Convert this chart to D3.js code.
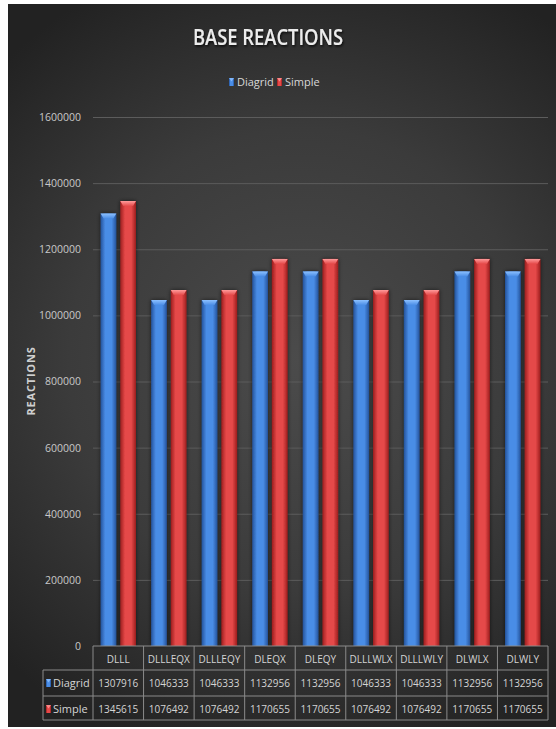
<!DOCTYPE html>
<html>
<head>
<meta charset="utf-8">
<script src="https://cdn.jsdelivr.net/npm/d3@7/dist/d3.min.js"></script>
<style>
  html, body { margin: 0; padding: 0; background: #ffffff; }
  svg { display: block; }
  text { font-family: "Open Sans", "Noto Sans", sans-serif; }
</style>
</head>
<body>
<svg id="chart" width="556" height="729"></svg>
<script>
// Load cases and base reaction totals for the two structural systems
const categories = ["DLLL", "DLLLEQX", "DLLLEQY", "DLEQX", "DLEQY", "DLLLWLX", "DLLLWLY", "DLWLX", "DLWLY"];
const seriesNames = ["Diagrid", "Simple"];
const diagrid = [1307916, 1046333, 1046333, 1132956, 1132956, 1046333, 1046333, 1132956, 1132956];
const simple  = [1345615, 1076492, 1076492, 1170655, 1170655, 1076492, 1076492, 1170655, 1170655];
const yTicks = [0, 200000, 400000, 600000, 800000, 1000000, 1200000, 1400000, 1600000];

const seriesValues = { Diagrid: diagrid, Simple: simple };
const palette = {
  Diagrid: { edge: "#24539c", mid: "#4a8de6", cap: "#8cc0ff" },
  Simple:  { edge: "#9c1e1e", mid: "#e54848", cap: "#ff9a9a" }
};

const svg = d3.select("#chart");
const W = 556, H = 729;
const frame = { x: 8, y: 4, w: W - 8, h: H - 4 - 2 };
const plot = { left: 93, right: 548, top: 117, bottom: 646 };

const defs = svg.append("defs");

// background: dark radial gradient
const bg = defs.append("radialGradient").attr("id", "bg")
  .attr("gradientUnits", "userSpaceOnUse")
  .attr("cx", 300).attr("cy", 360).attr("r", 420);
bg.append("stop").attr("offset", "0%").attr("stop-color", "#4b4b4b");
bg.append("stop").attr("offset", "55%").attr("stop-color", "#3b3b3b");
bg.append("stop").attr("offset", "100%").attr("stop-color", "#222222");

seriesNames.forEach(s => {
  const g = defs.append("linearGradient").attr("id", "bar-" + s)
    .attr("x1", "0%").attr("x2", "100%").attr("y1", "0%").attr("y2", "0%");
  g.append("stop").attr("offset", "0%").attr("stop-color", palette[s].edge);
  g.append("stop").attr("offset", "30%").attr("stop-color", palette[s].mid);
  g.append("stop").attr("offset", "70%").attr("stop-color", palette[s].mid);
  g.append("stop").attr("offset", "100%").attr("stop-color", palette[s].edge);
  const c = defs.append("linearGradient").attr("id", "cap-" + s)
    .attr("x1", "0%").attr("x2", "0%").attr("y1", "0%").attr("y2", "100%");
  c.append("stop").attr("offset", "0%").attr("stop-color", palette[s].cap);
  c.append("stop").attr("offset", "100%").attr("stop-color", palette[s].mid);
});

const shadow = defs.append("filter").attr("id", "shadow")
  .attr("x", "-40%").attr("y", "-10%").attr("width", "180%").attr("height", "120%");
shadow.append("feGaussianBlur").attr("in", "SourceAlpha").attr("stdDeviation", 2).attr("result", "b");
shadow.append("feOffset").attr("in", "b").attr("dx", 0).attr("dy", 0).attr("result", "o");
shadow.append("feComponentTransfer").attr("in", "o").attr("result", "s")
  .append("feFuncA").attr("type", "linear").attr("slope", 0.6);
const merge = shadow.append("feMerge");
merge.append("feMergeNode").attr("in", "s");
merge.append("feMergeNode").attr("in", "SourceGraphic");

const glow = defs.append("filter").attr("id", "titleShadow")
  .attr("x", "-10%").attr("y", "-30%").attr("width", "120%").attr("height", "160%");
glow.append("feDropShadow").attr("dx", 1).attr("dy", 1.5).attr("stdDeviation", 1.2)
  .attr("flood-color", "#000").attr("flood-opacity", 0.8);

svg.append("rect").attr("x", frame.x).attr("y", frame.y)
  .attr("width", frame.w).attr("height", frame.h).attr("fill", "url(#bg)");

// scales
const y = d3.scaleLinear().domain([0, 1600000]).range([plot.bottom, plot.top]);
const x0 = d3.scaleBand().domain(categories).range([plot.left, plot.right])
  .paddingInner(0.3).paddingOuter(0.15);
const x1 = d3.scaleBand().domain(seriesNames).range([0, x0.bandwidth()]).paddingInner(0.2);
const col = d3.scaleBand().domain(categories).range([plot.left, plot.right]);

// gridlines
const yAxis = d3.axisLeft(y).tickValues(yTicks).tickSize(-(plot.right - plot.left)).tickPadding(12)
  .tickFormat(d3.format("d"));
const ga = svg.append("g").attr("transform", `translate(${plot.left},0)`).call(yAxis);
ga.select(".domain").remove();
ga.selectAll(".tick line").attr("stroke", "#5c5c5c").attr("stroke-width", 1)
  .filter(d => d === 0).attr("stroke", "none");
ga.selectAll(".tick text").attr("fill", "#c8c8c8").attr("font-size", 10.5)
  .attr("font-family", "Open Sans, sans-serif");

// axis title
svg.append("text")
  .attr("transform", `translate(35,381) rotate(-90)`)
  .attr("text-anchor", "middle")
  .attr("fill", "#cfcfcf").attr("font-size", 11).attr("font-weight", "bold")
  .attr("letter-spacing", 0.8)
  .text("REACTIONS");

// bars
const groups = svg.append("g").selectAll("g").data(categories).join("g")
  .attr("transform", d => `translate(${x0(d)},0)`);

seriesNames.forEach(s => {
  groups.append("g").attr("filter", "url(#shadow)").each(function(cat, i) {
    const v = seriesValues[s][i];
    const g = d3.select(this);
    const bx = x1(s), bw = x1.bandwidth(), by = y(v), bh = y(0) - y(v);
    g.append("rect").attr("x", bx).attr("y", by).attr("width", bw).attr("height", bh)
      .attr("fill", `url(#bar-${s})`);
    // bevelled top cap
    const capH = 5;
    g.append("path")
      .attr("d", `M${bx},${by} L${bx + bw},${by} L${bx + bw - 3},${by + capH} L${bx + 3},${by + capH} Z`)
      .attr("fill", `url(#cap-${s})`);
  });
});

// title
svg.append("text").attr("x", 268).attr("y", 45).attr("text-anchor", "middle")
  .attr("fill", "#ececec").attr("font-size", 22).attr("font-weight", 600)
  .attr("textLength", 150).attr("lengthAdjust", "spacingAndGlyphs")
  .attr("filter", "url(#titleShadow)")
  .text("BASE REACTIONS");

// legend
function marker(g, s, mx, my, w, h) {
  g.append("rect").attr("x", mx).attr("y", my).attr("width", w).attr("height", h)
    .attr("fill", `url(#bar-${s})`);
  g.append("path")
    .attr("d", `M${mx},${my} L${mx + w},${my} L${mx + w / 2},${my + h * 0.45} Z`)
    .attr("fill", palette[s].cap).attr("opacity", 0.8);
}
const legend = svg.append("g");
const legendItems = [{ s: "Diagrid", x: 229 }, { s: "Simple", x: 277 }];
legendItems.forEach(it => {
  marker(legend, it.s, it.x, 78, 5, 8);
  legend.append("text").attr("x", it.x + 8).attr("y", 86).attr("fill", "#d8d8d8")
    .attr("font-size", 11).text(it.s);
});

// data table
const table = svg.append("g");
const rowTop = [646, 670, 696, 720];
const keyLeft = 43;
const lineColor = "#8a8a8a";
// horizontal lines
table.append("line").attr("x1", plot.left).attr("x2", plot.right).attr("y1", rowTop[0]).attr("y2", rowTop[0])
  .attr("stroke", lineColor);
[1, 2, 3].forEach(r => table.append("line").attr("x1", keyLeft).attr("x2", plot.right)
  .attr("y1", rowTop[r]).attr("y2", rowTop[r]).attr("stroke", lineColor));
// vertical lines
table.append("line").attr("x1", keyLeft).attr("x2", keyLeft).attr("y1", rowTop[1]).attr("y2", rowTop[3])
  .attr("stroke", lineColor);
categories.forEach(c => table.append("line").attr("x1", col(c)).attr("x2", col(c))
  .attr("y1", rowTop[0]).attr("y2", rowTop[3]).attr("stroke", lineColor));
table.append("line").attr("x1", plot.right).attr("x2", plot.right).attr("y1", rowTop[0]).attr("y2", rowTop[3])
  .attr("stroke", lineColor);

const cx = c => col(c) + col.bandwidth() / 2;
categories.forEach(c => table.append("text").attr("x", cx(c)).attr("y", rowTop[0] + 17)
  .attr("text-anchor", "middle").attr("fill", "#d4d4d4").attr("font-size", 10).text(c));
seriesNames.forEach((s, r) => {
  const yy = rowTop[r + 1] + 17;
  marker(table, s, keyLeft + 3, rowTop[r + 1] + 9, 5, 8);
  table.append("text").attr("x", keyLeft + 10).attr("y", yy).attr("fill", "#d4d4d4")
    .attr("font-size", 11).text(s);
  categories.forEach((c, i) => table.append("text").attr("x", cx(c)).attr("y", yy)
    .attr("text-anchor", "middle").attr("fill", "#d4d4d4").attr("font-size", 10)
    .text(seriesValues[s][i]));
});
</script>
</body>
</html>
